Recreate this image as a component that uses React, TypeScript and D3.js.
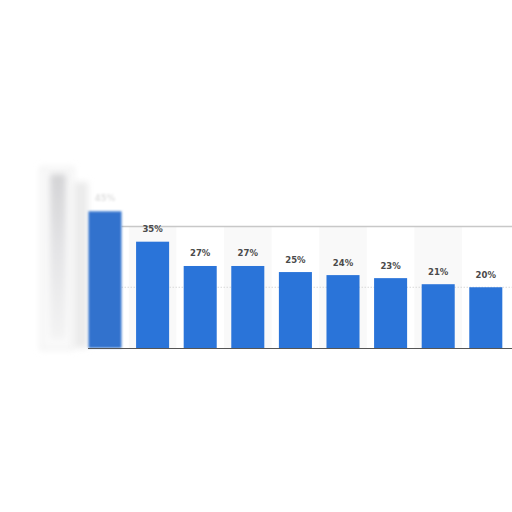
import React, { useRef, useEffect } from 'react';
import * as d3 from 'd3';

// values (categories are cropped away in the source)
const categories = ['Bar 1', 'Bar 2', 'Bar 3', 'Bar 4', 'Bar 5', 'Bar 6', 'Bar 7', 'Bar 8', 'Bar 9'];
const values = [45, 35, 27, 27, 25, 24, 23, 21, 20];
const gridTicks = [20, 40];

export default function App() {
  const width = 512;
  const height = 512;
  const svgRef = useRef<SVGSVGElement>(null);

  useEffect(() => {
    if (!svgRef.current) return;
    const svg = d3.select(svgRef.current);
    svg.selectAll('*').remove();

    const base = 348;
    const x = d3.scaleBand<string>()
      .domain(categories)
      .range([81.2, 509.6])
      .paddingInner(0.306)
      .paddingOuter(0.153);
    const y = d3.scaleLinear().domain([0, 40]).range([base, 226.5]);

    const defs = svg.append('defs');
    defs.append('filter').attr('id', 'blurA')
      .attr('x', '-50%').attr('y', '-50%').attr('width', '200%').attr('height', '200%')
      .append('feGaussianBlur').attr('stdDeviation', 3);
    defs.append('filter').attr('id', 'blurB')
      .attr('x', '-50%').attr('y', '-50%').attr('width', '200%').attr('height', '200%')
      .append('feGaussianBlur').attr('stdDeviation', 0.9);
    const grad = defs.append('linearGradient').attr('id', 'fade')
      .attr('x1', 0).attr('y1', 0).attr('x2', 0).attr('y2', 1);
    grad.append('stop').attr('offset', '0%').attr('stop-color', '#d4d4d6');
    grad.append('stop').attr('offset', '45%').attr('stop-color', '#e4e4e6');
    grad.append('stop').attr('offset', '100%').attr('stop-color', '#f4f4f4');

    const step = x.step();
    const plotLeft = (x(categories[0]) as number) + x.bandwidth();

    // alternating column shading
    svg.append('g')
      .selectAll('rect')
      .data(categories.filter((_, i) => i % 2 === 1))
      .enter()
      .append('rect')
      .attr('x', d => (x(d) as number) + x.bandwidth() / 2 - step / 2)
      .attr('y', y(40))
      .attr('width', step)
      .attr('height', base - y(40))
      .attr('fill', '#f9f9f9');

    // gridlines
    svg.append('g')
      .selectAll('line')
      .data(gridTicks)
      .enter()
      .append('line')
      .attr('x1', plotLeft)
      .attr('x2', width)
      .attr('y1', d => y(d))
      .attr('y2', d => y(d))
      .attr('stroke', d => (d === 40 ? '#c8c8c8' : '#d8d8d8'))
      .attr('stroke-width', d => (d === 40 ? 1.5 : 1))
      .attr('stroke-dasharray', d => (d === 40 ? null : '1.5,1.5'));

    // blurred left part
    const left = svg.append('g');
    left.append('rect')
      .attr('x', 41).attr('y', 168).attr('width', 32).attr('height', 181)
      .attr('fill', '#fafafa').attr('stroke', '#ececec').attr('stroke-width', 2)
      .attr('filter', 'url(#blurA)');
    left.append('rect')
      .attr('x', 50).attr('y', 174).attr('width', 16).attr('height', 165)
      .attr('fill', 'url(#fade)')
      .attr('filter', 'url(#blurA)');
    left.append('rect')
      .attr('x', 74).attr('y', 182).attr('width', 14).attr('height', 166)
      .attr('fill', '#ebebeb')
      .attr('filter', 'url(#blurA)');
    left.append('rect')
      .attr('x', x(categories[0]) as number)
      .attr('y', y(values[0]))
      .attr('width', x.bandwidth())
      .attr('height', base - y(values[0]))
      .attr('fill', '#3272cd')
      .attr('filter', 'url(#blurB)');
    left.append('text')
      .attr('x', (x(categories[0]) as number) + x.bandwidth() / 2)
      .attr('y', y(values[0]) - 10)
      .attr('text-anchor', 'middle')
      .attr('font-family', 'DejaVu Sans, sans-serif')
      .attr('font-size', 8.5)
      .attr('font-weight', 'bold')
      .attr('fill', '#e2e2e2')
      .attr('filter', 'url(#blurB)')
      .text(`${values[0]}%`);

    // bars
    const rest = categories.slice(1);
    svg.append('g')
      .selectAll('rect')
      .data(rest)
      .enter()
      .append('rect')
      .attr('x', d => x(d) as number)
      .attr('y', (_, i) => y(values[i + 1]))
      .attr('width', x.bandwidth())
      .attr('height', (_, i) => base - y(values[i + 1]))
      .attr('fill', '#2a74d9');

    svg.append('g')
      .selectAll('text')
      .data(rest)
      .enter()
      .append('text')
      .attr('x', d => (x(d) as number) + x.bandwidth() / 2)
      .attr('y', (_, i) => y(values[i + 1]) - 9.5)
      .attr('text-anchor', 'middle')
      .attr('font-family', 'DejaVu Sans, sans-serif')
      .attr('font-size', 8.5)
      .attr('font-weight', 'bold')
      .attr('fill', '#4a4a4a')
      .text((_, i) => `${values[i + 1]}%`);

    // baseline with soft shadow
    svg.append('line')
      .attr('x1', 88).attr('x2', width)
      .attr('y1', base + 2).attr('y2', base + 2)
      .attr('stroke', '#e2e2e2').attr('stroke-width', 3)
      .attr('filter', 'url(#blurB)');
    svg.append('line')
      .attr('x1', 88).attr('x2', width)
      .attr('y1', base + 0.5).attr('y2', base + 0.5)
      .attr('stroke', '#555').attr('stroke-width', 1);
  }, []);

  return (
    <svg
      ref={svgRef}
      width={width}
      height={height}
      style={{ position: 'absolute', left: 0, top: 0, background: '#fff' }}
    />
  );
}
